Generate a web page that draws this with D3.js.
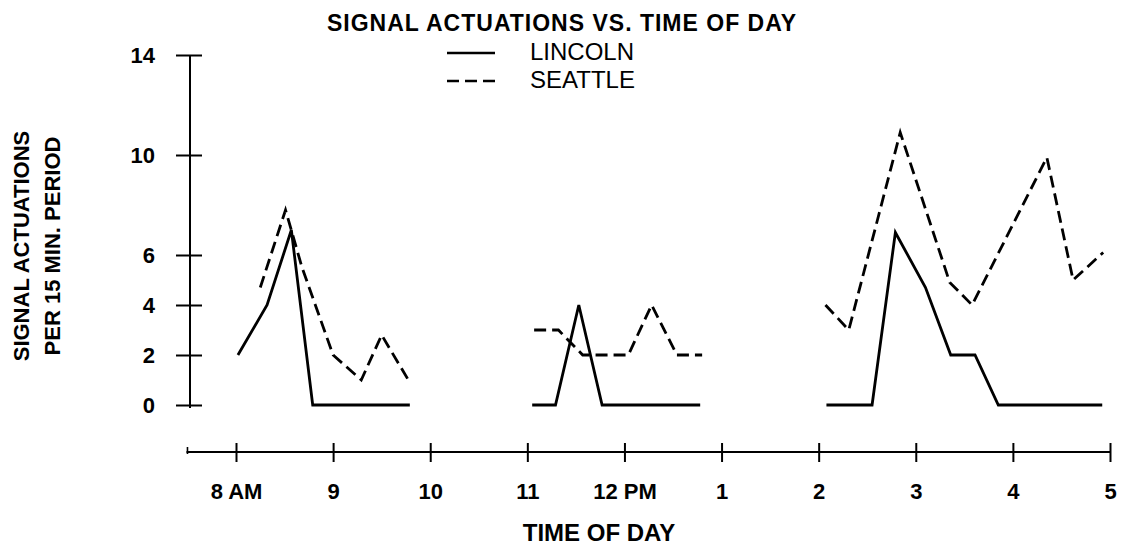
<!DOCTYPE html>
<html>
<head>
<meta charset="utf-8">
<script src="https://cdn.jsdelivr.net/npm/d3@7"></script>
<style>
  body { margin: 0; background: #fff; }
  svg { display: block; }
  text { font-family: "Liberation Sans", Arial, Helvetica, sans-serif; fill: #000; }
</style>
</head>
<body>
<svg id="chart" width="1135" height="546"></svg>
<script>
// Times are decimal hours on a 24-hour clock; counts are actuations per 15-minute period.
// Lincoln, three observation sessions
const lincolnMorningTime  = [8.02, 8.32, 8.57, 8.79, 9.79];
const lincolnMorningCount = [2, 4, 7, 0, 0];
const lincolnMiddayTime   = [11.05, 11.29, 11.53, 11.77, 12.78];
const lincolnMiddayCount  = [0, 0, 4, 0, 0];
const lincolnAfternoonTime  = [14.08, 14.55, 14.79, 15.10, 15.36, 15.61, 15.85, 16.92];
const lincolnAfternoonCount = [0, 0, 6.9, 4.7, 2, 2, 0, 0];

// Seattle, same sessions
const seattleMorningTime  = [8.25, 8.51, 8.68, 9.00, 9.29, 9.50, 9.79];
const seattleMorningCount = [4.7, 7.8, 5.5, 2, 1, 2.8, 0.9];
const seattleMiddayTime   = [11.07, 11.32, 11.57, 11.80, 12.04, 12.28, 12.54, 12.80];
const seattleMiddayCount  = [3, 3, 2, 2, 2, 4, 2, 2];
const seattleAfternoonTime  = [14.07, 14.31, 14.84, 15.35, 15.58, 16.35, 16.62, 16.93];
const seattleAfternoonCount = [4, 3, 10.9, 4.9, 4, 9.9, 5, 6.1];

// Axis ticks
const hourTicks  = [8, 9, 10, 11, 12, 13, 14, 15, 16, 17];
const hourLabels = ["8 AM", "9", "10", "11", "12 PM", "1", "2", "3", "4", "5"];
const countTicks = [0, 2, 4, 6, 10, 14];

const seriesNames = ["LINCOLN", "SEATTLE"];

const chartTitle = "SIGNAL ACTUATIONS VS. TIME OF DAY";
const xTitle = "TIME OF DAY";
const yTitleLines = ["SIGNAL ACTUATIONS", "PER 15 MIN. PERIOD"];

// ---- layout ----
const svg = d3.select("#chart");
const axisX = 190;       // y axis position
const axisY = 452;       // x axis position
const xStartHour = 7.49; // where the time axis line begins

const x = d3.scaleLinear().domain([8, 17]).range([236, 1110]);
const y = d3.scaleLinear().domain([0, 14]).range([405, 55]);

const zip = (t, c) => t.map((d, i) => [d, c[i]]);
const lincoln = [
  zip(lincolnMorningTime, lincolnMorningCount),
  zip(lincolnMiddayTime, lincolnMiddayCount),
  zip(lincolnAfternoonTime, lincolnAfternoonCount)
];
const seattle = [
  zip(seattleMorningTime, seattleMorningCount),
  zip(seattleMiddayTime, seattleMiddayCount),
  zip(seattleAfternoonTime, seattleAfternoonCount)
];

// ---- title ----
svg.append("text")
  .attr("x", 327).attr("y", 31)
  .attr("text-anchor", "start")
  .attr("font-size", 23).attr("font-weight", "bold")
  .attr("letter-spacing", 1)
  .text(chartTitle);

// ---- legend ----
const legend = svg.append("g");
[["none", 53], ["12,6", 81]].forEach(([dash, ly], i) => {
  legend.append("line")
    .attr("x1", 447).attr("x2", 495)
    .attr("y1", ly).attr("y2", ly)
    .attr("stroke", "#000").attr("stroke-width", 2.6)
    .attr("stroke-dasharray", dash === "none" ? null : dash);
  legend.append("text")
    .attr("x", 530).attr("y", ly + 7)
    .attr("font-size", 24)
    .text(seriesNames[i]);
});

// ---- y axis ----
const yAxis = svg.append("g")
  .attr("transform", `translate(${axisX},0)`)
  .call(d3.axisLeft(y).tickValues(countTicks).tickSizeInner(14).tickSizeOuter(0).tickPadding(21));
yAxis.select(".domain").remove();
yAxis.selectAll(".tick line")
  .attr("x1", 12).attr("stroke", "#000").attr("stroke-width", 2);
yAxis.selectAll(".tick text")
  .attr("font-size", 22).attr("font-weight", "bold")
  .attr("font-family", "Liberation Sans, Arial, sans-serif")
  .attr("dy", "0.36em");
yAxis.append("line")
  .attr("x1", 0).attr("x2", 0)
  .attr("y1", y(14)).attr("y2", y(0) + 3)
  .attr("stroke", "#000").attr("stroke-width", 2);

// ---- x axis ----
const xAxis = svg.append("g")
  .attr("transform", `translate(0,${axisY})`)
  .call(d3.axisBottom(x).tickValues(hourTicks)
    .tickFormat((d, i) => hourLabels[i])
    .tickSizeInner(10).tickSizeOuter(0));
xAxis.select(".domain").remove();
xAxis.selectAll(".tick line")
  .attr("y1", -9).attr("stroke", "#000").attr("stroke-width", 2);
xAxis.selectAll(".tick text")
  .attr("font-size", 22).attr("font-weight", "bold")
  .attr("font-family", "Liberation Sans, Arial, sans-serif")
  .attr("y", 47).attr("dy", null);
xAxis.append("line")
  .attr("x1", x(xStartHour)).attr("x2", x(17))
  .attr("y1", 0).attr("y2", 0)
  .attr("stroke", "#000").attr("stroke-width", 2);
xAxis.append("line")
  .attr("x1", x(xStartHour) + 1).attr("x2", x(xStartHour) + 1)
  .attr("y1", -5).attr("y2", 2)
  .attr("stroke", "#000").attr("stroke-width", 1.6);

// ---- axis titles ----
svg.append("text")
  .attr("x", 599).attr("y", 541)
  .attr("text-anchor", "middle")
  .attr("font-size", 24).attr("font-weight", "bold")
  .text(xTitle);

yTitleLines.forEach((t, i) => {
  svg.append("text")
    .attr("transform", `translate(${29 + i * 31},246) rotate(-90)`)
    .attr("text-anchor", "middle")
    .attr("font-size", 22).attr("font-weight", "bold")
    .text(t);
});

// ---- series ----
const line = d3.line().x(d => x(d[0])).y(d => y(d[1]));

svg.append("g").selectAll("path.lincoln")
  .data(lincoln).join("path")
  .attr("class", "lincoln")
  .attr("d", line)
  .attr("fill", "none").attr("stroke", "#000")
  .attr("stroke-width", 2.8).attr("stroke-linejoin", "miter");

svg.append("g").selectAll("path.seattle")
  .data(seattle).join("path")
  .attr("class", "seattle")
  .attr("d", line)
  .attr("fill", "none").attr("stroke", "#000")
  .attr("stroke-width", 2.8).attr("stroke-dasharray", "12,6");
</script>
</body>
</html>
